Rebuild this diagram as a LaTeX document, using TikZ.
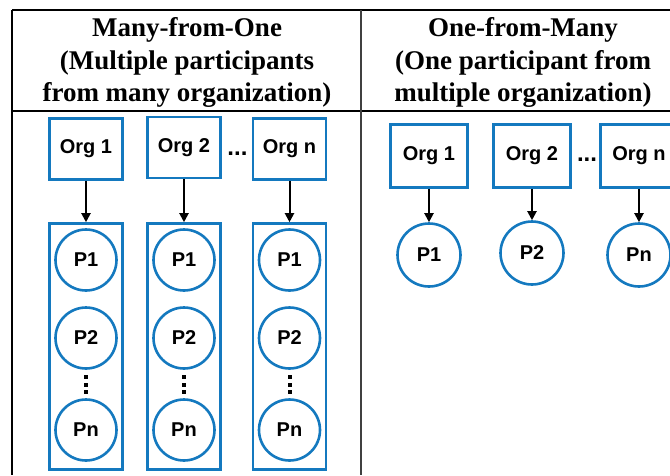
\documentclass[tikz,border=0pt]{standalone}
\usepackage{fontspec}
\setmainfont{Liberation Serif}
\newfontfamily\sansf{Liberation Sans}
\usetikzlibrary{arrows.meta}
\definecolor{myblue}{HTML}{1479BF}
\tikzset{
  hdr/.style={font=\bfseries\fontsize{27}{32}\selectfont, anchor=base, inner sep=0pt},
  orgbox/.style={draw=myblue, line width=2.6pt, minimum width=73pt, minimum height=61pt, inner sep=0pt,
    font=\sansf\bfseries\fontsize{20}{22}\selectfont},
  pcol/.style={draw=myblue, line width=2.6pt, minimum width=73pt, inner sep=0pt},
  pcirc/.style={draw=myblue, circle, line width=2.6pt, minimum size=61pt, inner sep=0pt,
    font=\sansf\bfseries\fontsize{20}{22}\selectfont},
  arr/.style={line width=2pt, -{Triangle[length=9pt,width=9pt]}},
  hdots/.style={font=\sansf\bfseries\fontsize{24}{26}\selectfont, inner sep=0pt},
  vdot/.style={fill=black, minimum size=4pt, inner sep=0pt},
  rule/.style={line width=1.4pt, black}
}
\begin{document}
\begin{tikzpicture}[x=1pt,y=-1pt]
\useasboundingbox (0,0) rectangle (670,475);
\clip (0,0) rectangle (670,475);
% table rules
\draw[rule] (12,10) -- (670,10);
\draw[rule] (12,111) -- (670,111);
\draw[rule] (12,10) -- (12,475);
\draw[line width=1.4pt, black!75] (361,10) -- (361,475);
% headers
\node[hdr] (h1a) at (187,36.5) {Many-from-One};
\node[hdr] (h1b) at (187,69.3) {(Multiple participants};
\node[hdr] (h1c) at (187,101.7) {from many organization)};
\node[hdr] (h2a) at (523,36.5) {One-from-Many};
\node[hdr] (h2b) at (523,69.3) {(One participant from};
\node[hdr] (h2c) at (523,101.7) {multiple organization)};
% left: many-from-one
\node[orgbox] (lo1) at (86,149) {Org 1};
\node[orgbox] (lo2) at (184,147.5) {Org 2};
\node[orgbox] (lo3) at (289.5,149) {Org n};
\node[hdots] (ldots) at (237.5,154) {...};
\foreach \i/\x in {1/86,2/184,3/289.5}{
  \node[pcol, minimum height=246pt] (lc\i) at (\x,346.5) {};
  \node[pcirc] (lp\i a) at (\x,260) {P1};
  \node[pcirc] (lp\i b) at (\x,338) {P2};
  \node[pcirc] (lp\i c) at (\x,430) {Pn};
  \node[vdot] (ld\i a) at (\x,377) {};
  \node[vdot] (ld\i b) at (\x,384.5) {};
  \node[vdot] (ld\i c) at (\x,392) {};
}
\draw[arr] (lo1.south) -- (lc1.north);
\draw[arr] (lo2.south) -- (lc2.north);
\draw[arr] (lo3.south) -- (lc3.north);
% right: one-from-many
\node[orgbox, minimum width=77pt, minimum height=63pt] (ro1) at (429,156) {Org 1};
\node[orgbox, minimum width=77pt, minimum height=63pt] (ro2) at (532,156) {Org 2};
\node[orgbox, minimum width=77pt, minimum height=63pt] (ro3) at (639,156) {Org n};
\node[hdots] (rdots) at (587,160) {...};
\node[pcirc, minimum size=63pt] (rp1) at (429,255) {P1};
\node[pcirc, minimum size=63pt] (rp2) at (532,253) {P2};
\node[pcirc, minimum size=63pt] (rp3) at (639,255) {Pn};
\draw[arr] (ro1.south) -- (rp1.north);
\draw[arr] (ro2.south) -- (rp2.north);
\draw[arr] (ro3.south) -- (rp3.north);
\end{tikzpicture}
\end{document}
